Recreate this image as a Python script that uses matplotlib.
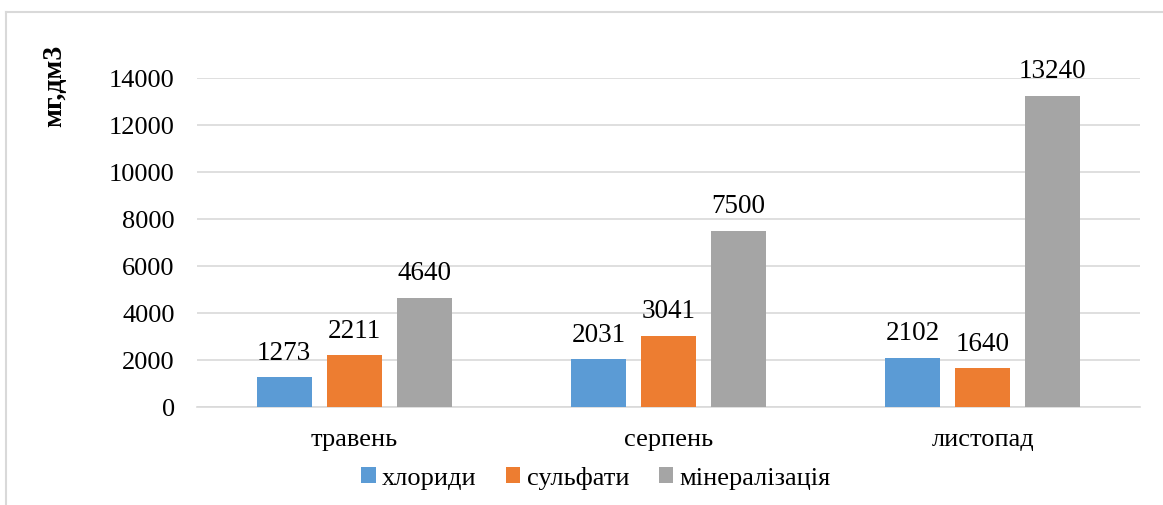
import numpy as np
import matplotlib.pyplot as plt
from matplotlib.lines import Line2D

# дані
months = ["травень", "серпень", "листопад"]
chlorides = [1273, 2031, 2102]
sulfates = [2211, 3041, 1640]
mineral = [4640, 7500, 13240]
series_names = ["хлориди", "сульфати", "мінералізація"]
colors = ["#5B9BD5", "#ED7D31", "#A5A5A5"]

plt.rcParams['font.family'] = ['Liberation Serif', 'DejaVu Serif']

fig = plt.figure(figsize=(11.63, 5.06), dpi=100)
ax = fig.add_axes([0.1694, 0.1937, 0.9802 - 0.1694, 0.8439 - 0.1937])

x = np.arange(len(months))
width = 0.175
step = 0.223

for i, (vals, name, c) in enumerate(zip([chlorides, sulfates, mineral], series_names, colors)):
    pos = x + (i - 1) * step
    bars = ax.bar(pos, vals, width, color=c, label=name, zorder=3)
    for b, v in zip(bars, vals):
        ax.annotate(str(v), (b.get_x() + b.get_width() / 2, v),
                    xytext=(0, 9), textcoords='offset points',
                    ha='center', va='bottom', fontsize=19.5, color='#000000')

ax.set_xlim(-0.5, 2.5)
ax.set_ylim(0, 14000)
ax.set_yticks(np.arange(0, 14001, 2000))
ax.set_xticks(x)
ax.set_xticklabels(months)
ax.tick_params(axis='y', length=0, pad=16, labelsize=19)
ax.tick_params(axis='x', length=0, pad=15, labelsize=19)
ax.grid(axis='y', color='#d9d9d9', linewidth=1.2, zorder=0)
for s in ['top', 'right', 'left']:
    ax.spines[s].set_visible(False)
ax.spines['bottom'].set_color('#d9d9d9')
ax.spines['bottom'].set_linewidth(1.2)

fig.text(55 / 1163, 1 - 86 / 506, "мг,дм3", rotation=90, fontsize=20,
         fontweight='bold', ha='center', va='center')

fig.legend(loc='center', bbox_to_anchor=(596 / 1163, 1 - 479 / 506), ncol=3,
           frameon=False, fontsize=19, handlelength=0.55, handleheight=0.55,
           handletextpad=0.25, columnspacing=1.1)

# рамка діаграми
fig.add_artist(Line2D([6 / 1163, 6 / 1163], [0, 1 - 13 / 506], transform=fig.transFigure,
                      color='#d9d9d9', linewidth=1.5))
fig.add_artist(Line2D([6 / 1163, 1], [1 - 13 / 506, 1 - 13 / 506], transform=fig.transFigure,
                      color='#d9d9d9', linewidth=1.5))

fig.savefig('out.png', dpi=100)
